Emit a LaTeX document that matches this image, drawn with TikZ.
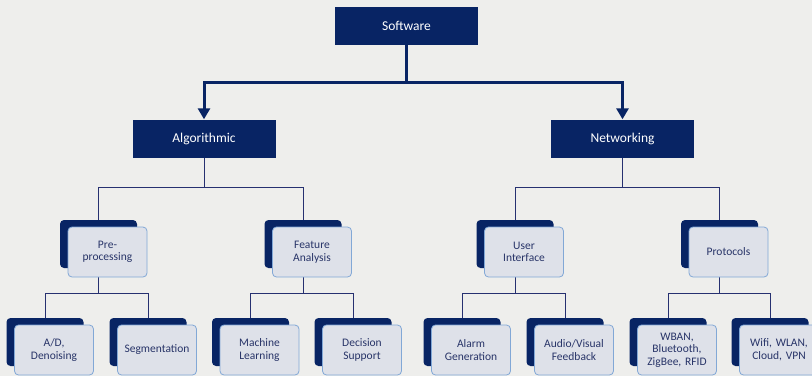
\documentclass[tikz,border=0pt]{standalone}
\usepackage{fontspec}
\setmainfont{Carlito}
\usetikzlibrary{arrows.meta,positioning,calc,backgrounds}
\definecolor{navy}{RGB}{8,36,100}
\definecolor{linkcol}{RGB}{38,48,112}
\definecolor{frontfill}{RGB}{222,225,233}
\definecolor{frontline}{RGB}{130,168,214}
\definecolor{fronttext}{RGB}{40,52,104}
\definecolor{paper}{RGB}{238,238,236}

\begin{document}
\begin{tikzpicture}[x=1pt,y=-1pt,
	topbox/.style={fill=navy, text=white, minimum width=143, minimum height=38, inner sep=0, font=\fontsize{13.5}{15}\selectfont},
	backbox/.style={fill=navy, rounded corners=4, minimum width=77, minimum height=48, inner sep=0},
	frontbox/.style={fill=frontfill, draw=frontline, line width=0.8pt, rounded corners=4, minimum width=79, minimum height=50, inner sep=0, text=fronttext, align=center, text width=76, font=\fontsize{11.5}{12.5}\selectfont},
	link/.style={draw=linkcol, line width=0.9pt},
	bigarrow/.style={draw=navy, line width=3pt, -{Triangle[length=11pt,width=12pt]}}]
		\useasboundingbox (0,0) rectangle (812,376);
		% Top and second level
		\node[topbox] (soft) at (406.5,26) {Software};
		\node[topbox] (algo) at (204,138.5) {Algorithmic};
		\node[topbox] (netw) at (622.5,138.5) {Networking};
		% Third and fourth level: dark box behind, light box in front
		\foreach \name/\x/\y/\txt in {pre/98.5/244/{Pre-\\processing},
			feat/303/244/{Feature\\Analysis},
			ui/515/244/{User\\Interface},
			prot/719.5/244/{Protocols},
			ad/45/342/{A/D,\\Denoising},
			seg/148/342/{Segmentation},
			ml/250.5/342/{Machine\\Learning},
			ds/353/342/{Decision\\Support},
			alarm/462/342/{Alarm\\Generation},
			av/565/342/{Audio/Visual\\Feedback},
			wban/668/342/{WBAN,\\Bluetooth,\\ZigBee, RFID},
			wifi/770/342/{Wifi, WLAN,\\Cloud, VPN}}
		{\node[backbox] (\name B) at (\x,\y) {};
			\node[frontbox] (\name F) at ($(\name B)+(9,8)$) {\txt};}
		% Connectors go behind the boxes
		\begin{pgfonlayer}{background}
			\fill[paper] (0,0) rectangle (812,376);
			\coordinate (softj) at ($(soft.south)+(0,37)$);
			\draw[navy, line width=3pt] (soft.south) -- (softj);
			\draw[bigarrow] (softj) -| (algo.north);
			\draw[bigarrow] (softj) -| (netw.north);
			\foreach \parent/\lkid/\rkid in {algo/pre/feat, netw/ui/prot}
			{\coordinate (\parent j) at ($(\parent.south)+(0,30)$);
				\draw[link] (\parent.south) -- (\parent j);
				\draw[link] (\parent j) -| (\lkid B.north);
				\draw[link] (\parent j) -| (\rkid B.north);}
			\foreach \parent/\lkid/\rkid in {pre/ad/seg, feat/ml/ds, ui/alarm/av, prot/wban/wifi}
			{\coordinate (\parent j) at ($(\parent B.south)+(0,25)$);
				\draw[link] (\parent B.south) -- (\parent j);
				\draw[link] (\parent j) -| (\lkid B.north);
				\draw[link] (\parent j) -| (\rkid B.north);}
		\end{pgfonlayer}
	\end{tikzpicture}
\end{document}
